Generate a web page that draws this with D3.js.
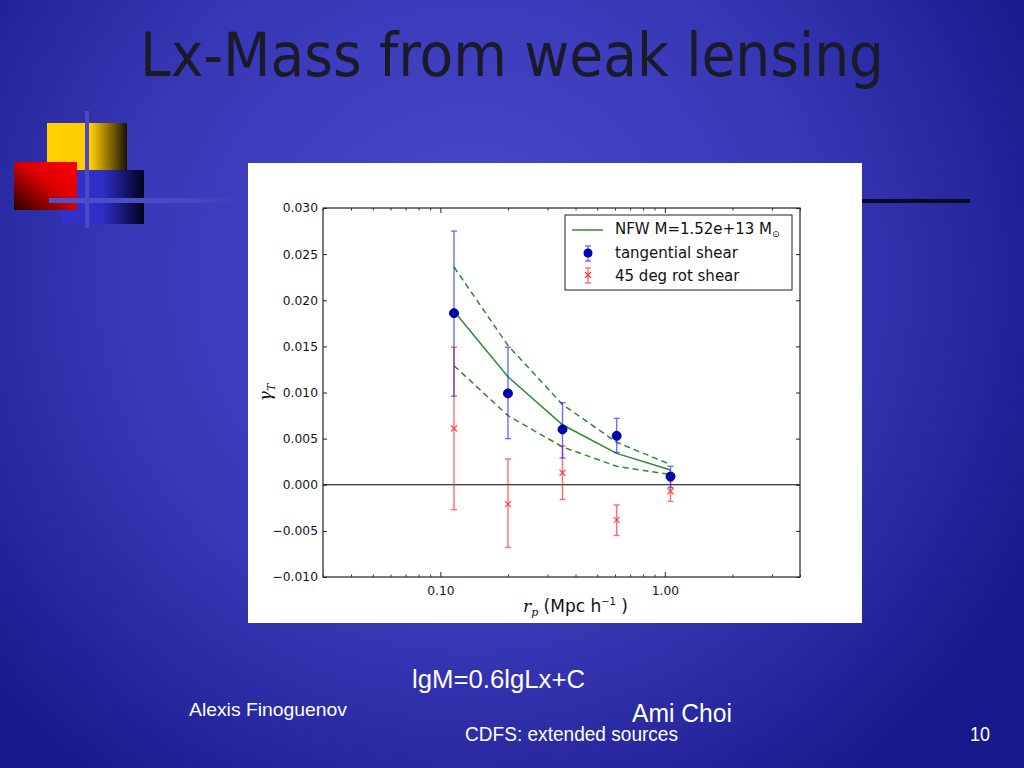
<!DOCTYPE html>
<html><head><meta charset="utf-8">
<script src="https://cdn.jsdelivr.net/npm/d3@7"></script>
<style>body{margin:0;overflow:hidden}svg{display:block}</style>
</head><body>
<script>
// ---- data ----
const rp = [0.115, 0.2, 0.35, 0.61, 1.06];
const tanShear = [0.0186, 0.0099, 0.0060, 0.0053, 0.0009];
const tanErrHi = [0.0275, 0.0149, 0.0089, 0.0072, 0.0020];
const tanErrLo = [0.0096, 0.0050, 0.0029, 0.0035, -0.0003];
const rotShear = [0.0061, -0.0021, 0.0013, -0.0038, -0.0007];
const rotErrHi = [0.0149, 0.0028, 0.0042, -0.0022, 0.0004];
const rotErrLo = [-0.0027, -0.0068, -0.0016, -0.0055, -0.0018];
const nfw = [0.0188, 0.0117, 0.0065, 0.0034, 0.0016];
const nfwUpper = [0.0236, 0.0151, 0.0087, 0.0046, 0.0022];
const nfwLower = [0.0129, 0.0075, 0.0041, 0.0020, 0.0011];
const yTicks = [-0.010, -0.005, 0.000, 0.005, 0.010, 0.015, 0.020, 0.025, 0.030];
const xTicks = [0.1, 1.0];
const xMinor = [0.03,0.04,0.05,0.06,0.07,0.08,0.09,0.2,0.3,0.4,0.5,0.6,0.7,0.8,0.9,2,3,4];
const legendLabels = ["NFW M=1.52e+13 M", "tangential shear", "45 deg rot shear"];

const W = 1024, H = 768;
const svg = d3.select("body").append("svg").attr("width", W).attr("height", H);
const defs = svg.append("defs");

// background
const bg = defs.append("radialGradient").attr("id","bg")
  .attr("gradientUnits","userSpaceOnUse").attr("cx",470).attr("cy",280).attr("r",640);
bg.append("stop").attr("offset","0").attr("stop-color","#4949cf");
bg.append("stop").attr("offset","0.55").attr("stop-color","#3838b6");
bg.append("stop").attr("offset","1").attr("stop-color","#18188a");
svg.append("rect").attr("width",W).attr("height",H).attr("fill","url(#bg)");

// decoration
function lg(id, x1,y1,x2,y2, stops){
  const g = defs.append("linearGradient").attr("id",id).attr("x1",x1).attr("y1",y1).attr("x2",x2).attr("y2",y2);
  stops.forEach(s=>g.append("stop").attr("offset",s[0]).attr("stop-color",s[1]));
}
lg("gy","0","0","1","0",[[0,"#ffd000"],[0.55,"#ffcc00"],[1,"#1a1400"]]);
lg("gr","0","1","1","0",[[0,"#2a0000"],[0.55,"#dd0000"],[1,"#ff0000"]]);
lg("gb","0","0","1","0",[[0,"#3333cc"],[0.5,"#2e2ec8"],[1,"#000020"]]);
lg("gh","0","0","1","0",[[0,"#5050c8"],[0.7,"#4848c0"],[1,"rgba(70,70,190,0)"]]);
svg.append("rect").attr("x",47).attr("y",123).attr("width",80).attr("height",87).attr("fill","url(#gy)");
svg.append("rect").attr("x",61).attr("y",170).attr("width",83).attr("height",54).attr("fill","url(#gb)");
svg.append("rect").attr("x",14).attr("y",162).attr("width",63).attr("height",48).attr("fill","url(#gr)");
svg.append("rect").attr("x",49).attr("y",198).attr("width",200).attr("height",5).attr("fill","url(#gh)");
svg.append("rect").attr("x",85).attr("y",111).attr("width",4).attr("height",117).attr("fill","#4a4ac4");
svg.append("rect").attr("x",862).attr("y",199).attr("width",108).attr("height",4).attr("fill","#0a0a20");

// title
svg.append("text").attr("x",140).attr("y",76).attr("font-family","DejaVu Sans Condensed, DejaVu Sans")
  .attr("font-size",60).attr("fill","#1a1a28").attr("textLength",744).attr("lengthAdjust","spacingAndGlyphs")
  .text("Lx-Mass from weak lensing");

// chart panel
svg.append("rect").attr("x",248).attr("y",163).attr("width",614).attr("height",460).attr("fill","#ffffff");

const m = {l:323, r:800, t:208, b:577};
const x = d3.scaleLog().domain([0.03, 4]).range([m.l, m.r]);
const y = d3.scaleLinear().domain([-0.010, 0.030]).range([m.b, m.t]);
const g = svg.append("g");
const font = "DejaVu Sans";

// zero line
g.append("line").attr("x1",m.l).attr("x2",m.r).attr("y1",y(0)).attr("y2",y(0)).attr("stroke","#000").attr("stroke-width",1.2);

// axes frame
g.append("rect").attr("x",m.l).attr("y",m.t).attr("width",m.r-m.l).attr("height",m.b-m.t)
  .attr("fill","none").attr("stroke","#222").attr("stroke-width",1.2);

// y ticks
const yAxL = d3.axisLeft(y).tickValues(yTicks).tickSize(-4).tickPadding(3)
  .tickFormat(d=>d3.format(".3f")(d).replace("-","\u2212"));
const ya = g.append("g").attr("transform",`translate(${m.l},0)`).call(yAxL);
ya.select(".domain").remove();
ya.selectAll("text").attr("font-family",font).attr("font-size",12.3).attr("fill","#111").attr("dx","-2");
ya.selectAll("line").attr("stroke","#222");
const yAxR = d3.axisRight(y).tickValues(yTicks).tickSize(-4).tickFormat("");
const yr = g.append("g").attr("transform",`translate(${m.r},0)`).call(yAxR);
yr.select(".domain").remove(); yr.selectAll("line").attr("stroke","#222");

// x ticks
const xAxB = d3.axisBottom(x).tickValues(xTicks).tickSize(-5).tickPadding(9).tickFormat(d3.format(".2f"));
const xb = g.append("g").attr("transform",`translate(0,${m.b})`).call(xAxB);
xb.select(".domain").remove();
xb.selectAll("text").attr("font-family",font).attr("font-size",12.3).attr("fill","#111");
xb.selectAll("line").attr("stroke","#222");
const xbm = g.append("g").attr("transform",`translate(0,${m.b})`).call(d3.axisBottom(x).tickValues(xMinor).tickSize(-2.5).tickFormat(""));
xbm.select(".domain").remove(); xbm.selectAll("line").attr("stroke","#333");
const xt = g.append("g").attr("transform",`translate(0,${m.t})`).call(d3.axisTop(x).tickValues(xTicks).tickSize(-5).tickFormat(""));
xt.select(".domain").remove(); xt.selectAll("line").attr("stroke","#222");
const xtm = g.append("g").attr("transform",`translate(0,${m.t})`).call(d3.axisTop(x).tickValues(xMinor).tickSize(-2.5).tickFormat(""));
xtm.select(".domain").remove(); xtm.selectAll("line").attr("stroke","#333");

// axis labels
const xl = svg.append("text").attr("x",(m.l+m.r)/2+14).attr("y",612).attr("text-anchor","middle")
  .attr("font-family",font).attr("font-size",17).attr("fill","#111");
xl.append("tspan").attr("font-family","DejaVu Serif").attr("font-style","italic").text("r");
xl.append("tspan").attr("font-family","DejaVu Serif").attr("font-style","italic").attr("font-size",11).attr("dy",4).text("p");
xl.append("tspan").attr("dy",-4).text(" (Mpc h");
xl.append("tspan").attr("font-size",10).attr("dy",-7).text("\u22121");
xl.append("tspan").attr("dy",7).text(" )");
const yl = svg.append("text").attr("transform",`translate(271,${(m.t+m.b)/2}) rotate(-90)`).attr("text-anchor","middle")
  .attr("font-family","DejaVu Serif").attr("font-style","italic").attr("font-size",17).attr("fill","#111");
yl.append("tspan").text("\u03b3");
yl.append("tspan").attr("font-size",11).attr("dy",4).text("T");

// NFW lines
const line = d3.line().x((d,i)=>x(rp[i])).y(d=>y(d));
const green = "#2e8b2e";
g.append("path").datum(nfw).attr("d",line).attr("fill","none").attr("stroke",green).attr("stroke-width",1.5);
[nfwUpper, nfwLower].forEach(arr=>g.append("path").datum(arr).attr("d",line).attr("fill","none")
  .attr("stroke",green).attr("stroke-width",1.5).attr("stroke-dasharray","6,4"));

// error bars
function errbars(vals, hi, lo, color){
  const eg = g.append("g").attr("stroke",color).attr("stroke-width",1.4).attr("opacity",0.65);
  vals.forEach((v,i)=>{
    const cx = x(rp[i]);
    eg.append("line").attr("x1",cx).attr("x2",cx).attr("y1",y(hi[i])).attr("y2",y(lo[i]));
    eg.append("line").attr("x1",cx-3).attr("x2",cx+3).attr("y1",y(hi[i])).attr("y2",y(hi[i]));
    eg.append("line").attr("x1",cx-3).attr("x2",cx+3).attr("y1",y(lo[i])).attr("y2",y(lo[i]));
  });
}
errbars(rotShear, rotErrHi, rotErrLo, "#ff2020");
errbars(tanShear, tanErrHi, tanErrLo, "#2020ff");
// red x markers
const red = "#ff3030";
rotShear.forEach((v,i)=>{
  const cx=x(rp[i]), cy=y(v), s=3;
  g.append("path").attr("d",`M${cx-s},${cy-s}L${cx+s},${cy+s}M${cx-s},${cy+s}L${cx+s},${cy-s}`)
    .attr("stroke",red).attr("stroke-width",1.2).attr("opacity",0.85);
});
// blue dots
g.selectAll("circle.t").data(tanShear).enter().append("circle")
  .attr("cx",(d,i)=>x(rp[i])).attr("cy",d=>y(d)).attr("r",4.5).attr("fill","#0000b0").attr("stroke","#00008a");

// legend
const lgx = 565, lgy = 215;
svg.append("rect").attr("x",lgx).attr("y",lgy).attr("width",227).attr("height",75).attr("fill","#fff")
  .attr("stroke","#222").attr("stroke-width",1);
svg.append("line").attr("x1",572).attr("x2",603).attr("y1",230).attr("y2",230).attr("stroke",green).attr("stroke-width",1.5);
const lt = (yy, str) => svg.append("text").attr("x",615).attr("y",yy).attr("font-family",font).attr("font-size",15).attr("fill","#111").text(str);
const t0 = lt(234, legendLabels[0]);
t0.append("tspan").attr("font-size",9).attr("dy",3).text("\u2299");
lt(258, legendLabels[1]);
lt(281, legendLabels[2]);
// legend symbols
const bl = svg.append("g").attr("stroke","#2020ff").attr("stroke-width",1.4).attr("opacity",0.65);
bl.append("line").attr("x1",588).attr("x2",588).attr("y1",246).attr("y2",261);
bl.append("line").attr("x1",585).attr("x2",591).attr("y1",246).attr("y2",246);
bl.append("line").attr("x1",585).attr("x2",591).attr("y1",261).attr("y2",261);
svg.append("circle").attr("cx",588).attr("cy",253).attr("r",4.5).attr("fill","#0000b0");
const rl = svg.append("g").attr("stroke","#ff2020").attr("stroke-width",1.4).attr("opacity",0.65);
rl.append("line").attr("x1",588).attr("x2",588).attr("y1",268).attr("y2",283);
rl.append("line").attr("x1",585).attr("x2",591).attr("y1",268).attr("y2",268);
rl.append("line").attr("x1",585).attr("x2",591).attr("y1",283).attr("y2",283);
svg.append("path").attr("d","M585,272L591,278M585,278L591,272").attr("stroke",red).attr("stroke-width",1.2);

// footer text
const ft = (xx, yy, sz, len, str) => svg.append("text").attr("x",xx).attr("y",yy).attr("font-family","Liberation Sans Narrow, Liberation Sans, sans-serif")
  .attr("font-size",sz).attr("fill","#ffffff").attr("textLength",len).attr("lengthAdjust","spacingAndGlyphs").text(str);
ft(412, 688, 26, 173, "lgM=0.6lgLx+C");
ft(189, 716, 19, 158, "Alexis Finoguenov");
ft(632, 722, 26, 100, "Ami Choi");
ft(465, 741, 20, 213, "CDFS: extended sources");
ft(970, 741, 20, 20, "10");
</script>
</body></html>
